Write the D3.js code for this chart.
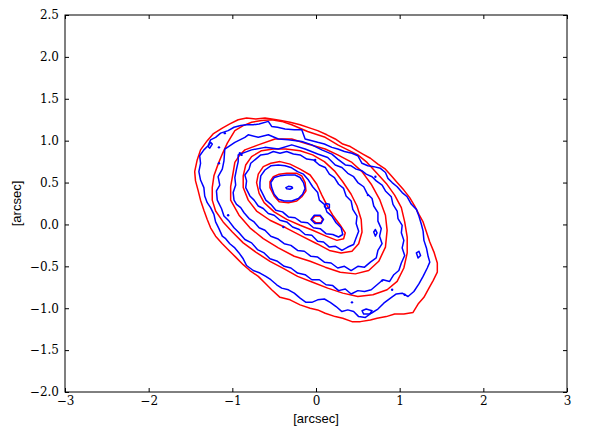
<!DOCTYPE html>
<html><head><meta charset="utf-8">
<script src="https://cdn.jsdelivr.net/npm/d3@7/dist/d3.min.js"></script>
<style>body{margin:0;background:#fff}</style></head>
<body><svg id="c" width="598" height="432"></svg>
<script>
const xTicks=[-3,-2,-1,0,1,2,3];
const yTicks=[-2.0,-1.5,-1.0,-0.5,0.0,0.5,1.0,1.5,2.0,2.5];
const xLabel="[arcsec]", yLabel="[arcsec]";

const red1=[[-1.45,0.63],[-1.42,0.77],[-1.38,0.89],[-1.30,1.00],[-1.23,1.08],[-1.12,1.15],[-1.03,1.20],[-0.93,1.25],[-0.83,1.27],[-0.72,1.26],[-0.61,1.27],[-0.53,1.26],[-0.42,1.24],[-0.31,1.22],[-0.19,1.19],[-0.07,1.15],[0.02,1.12],[0.13,1.07],[0.23,1.02],[0.32,0.96],[0.41,0.93],[0.49,0.88],[0.56,0.84],[0.65,0.79],[0.74,0.72],[0.83,0.66],[0.90,0.58],[0.97,0.50],[1.05,0.41],[1.12,0.32],[1.18,0.22],[1.23,0.12],[1.28,0.03],[1.32,-0.09],[1.36,-0.21],[1.41,-0.33],[1.45,-0.46],[1.45,-0.57],[1.40,-0.67],[1.35,-0.76],[1.29,-0.87],[1.22,-0.95],[1.16,-1.05],[1.05,-1.07],[0.94,-1.07],[0.84,-1.10],[0.73,-1.12],[0.65,-1.14],[0.53,-1.16],[0.43,-1.16],[0.32,-1.12],[0.23,-1.10],[0.11,-1.06],[0.02,-1.02],[-0.07,-1.00],[-0.19,-0.96],[-0.31,-0.90],[-0.43,-0.87],[-0.53,-0.78],[-0.61,-0.70],[-0.69,-0.62],[-0.79,-0.55],[-0.87,-0.48],[-0.96,-0.39],[-1.04,-0.31],[-1.12,-0.23],[-1.20,-0.14],[-1.26,-0.04],[-1.30,0.06],[-1.34,0.17],[-1.38,0.29],[-1.41,0.41],[-1.44,0.52]];
const red2=[[-1.24,0.29],[-1.24,0.44],[-1.22,0.58],[-1.17,0.72],[-1.12,0.84],[-1.06,0.97],[-0.97,1.12],[-0.87,1.18],[-0.77,1.22],[-0.65,1.24],[-0.53,1.25],[-0.41,1.23],[-0.29,1.19],[-0.10,1.11],[0.11,1.04],[0.26,0.95],[0.38,0.89],[0.50,0.83],[0.61,0.74],[0.72,0.62],[0.84,0.49],[0.94,0.35],[1.02,0.20],[1.06,0.03],[1.09,-0.15],[1.09,-0.34],[1.05,-0.52],[0.97,-0.68],[0.85,-0.78],[0.68,-0.84],[0.50,-0.86],[0.32,-0.82],[0.14,-0.76],[-0.04,-0.69],[-0.22,-0.62],[-0.38,-0.53],[-0.55,-0.44],[-0.72,-0.33],[-0.87,-0.22],[-1.00,-0.09],[-1.11,0.03],[-1.20,0.16]];
const red3=[[-1.02,0.29],[-1.02,0.45],[-0.99,0.62],[-0.97,0.74],[-0.91,0.83],[-0.85,0.89],[-0.69,0.95],[-0.49,1.02],[-0.29,1.02],[-0.10,0.96],[0.11,0.90],[0.26,0.83],[0.43,0.74],[0.55,0.63],[0.66,0.48],[0.76,0.30],[0.83,0.11],[0.85,-0.07],[0.83,-0.27],[0.75,-0.44],[0.63,-0.55],[0.47,-0.59],[0.29,-0.57],[0.11,-0.51],[-0.07,-0.44],[-0.26,-0.38],[-0.45,-0.28],[-0.63,-0.17],[-0.79,-0.04],[-0.92,0.11]];
const red4=[[-0.87,0.44],[-0.87,0.58],[-0.84,0.71],[-0.77,0.81],[-0.65,0.88],[-0.51,0.90],[-0.36,0.90],[-0.19,0.88],[-0.04,0.83],[0.10,0.75],[0.22,0.64],[0.32,0.51],[0.42,0.36],[0.49,0.22],[0.54,0.06],[0.55,-0.09],[0.51,-0.23],[0.43,-0.32],[0.30,-0.34],[0.16,-0.31],[0.01,-0.23],[-0.17,-0.14],[-0.36,-0.04],[-0.55,0.05],[-0.71,0.16],[-0.81,0.29]];
const red5=[[-0.71,0.50],[-0.69,0.60],[-0.63,0.69],[-0.54,0.73],[-0.43,0.75],[-0.31,0.72],[-0.19,0.66],[-0.07,0.59],[0.01,0.48],[0.07,0.35],[0.13,0.23],[0.20,0.11],[0.29,-0.01],[0.35,-0.10],[0.33,-0.17],[0.25,-0.19],[0.12,-0.14],[-0.04,-0.07],[-0.19,-0.01],[-0.35,0.06],[-0.50,0.15],[-0.62,0.26],[-0.68,0.37]];
const red6=[[-0.55,0.44],[-0.55,0.51],[-0.51,0.57],[-0.44,0.60],[-0.35,0.61],[-0.23,0.61],[-0.17,0.58],[-0.13,0.50],[-0.12,0.40],[-0.17,0.33],[-0.23,0.28],[-0.33,0.26],[-0.44,0.27],[-0.50,0.34]];
const red7=[[-0.05,0.06],[-0.01,0.10],[0.05,0.10],[0.08,0.06],[0.06,0.02],[0.00,0.02]];

const blue1=[[-1.40,0.63],[-1.38,0.73],[-1.39,0.82],[-1.34,0.89],[-1.29,0.94],[-1.26,1.01],[-1.20,1.04],[-1.14,1.09],[-1.05,1.12],[-0.98,1.16],[-0.90,1.18],[-0.83,1.19],[-0.75,1.19],[-0.68,1.20],[-0.57,1.23],[-0.53,1.17],[-0.46,1.16],[-0.37,1.14],[-0.26,1.13],[-0.17,1.13],[-0.13,1.02],[-0.05,1.00],[0.02,0.98],[0.10,0.96],[0.19,0.92],[0.26,0.90],[0.34,0.87],[0.43,0.85],[0.50,0.82],[0.55,0.73],[0.62,0.70],[0.69,0.69],[0.77,0.67],[0.83,0.62],[0.86,0.55],[0.91,0.50],[0.97,0.45],[1.03,0.38],[1.09,0.33],[1.14,0.24],[1.20,0.18],[1.23,0.10],[1.26,0.00],[1.28,-0.08],[1.29,-0.19],[1.32,-0.28],[1.34,-0.38],[1.36,-0.45],[1.33,-0.52],[1.28,-0.62],[1.23,-0.71],[1.17,-0.80],[1.10,-0.86],[1.03,-0.82],[0.96,-0.83],[0.89,-0.88],[0.81,-0.94],[0.74,-1.01],[0.66,-1.06],[0.59,-1.11],[0.51,-1.10],[0.45,-1.04],[0.38,-1.02],[0.31,-1.04],[0.24,-0.98],[0.17,-0.93],[0.10,-0.89],[0.02,-0.90],[-0.05,-0.93],[-0.12,-0.93],[-0.19,-0.88],[-0.26,-0.82],[-0.33,-0.78],[-0.41,-0.76],[-0.47,-0.72],[-0.54,-0.66],[-0.60,-0.62],[-0.67,-0.58],[-0.75,-0.55],[-0.83,-0.49],[-0.87,-0.41],[-0.92,-0.34],[-0.97,-0.28],[-1.03,-0.23],[-1.08,-0.17],[-1.12,-0.14],[-1.16,-0.05],[-1.20,0.03],[-1.22,0.12],[-1.26,0.20],[-1.30,0.26],[-1.33,0.34],[-1.34,0.44],[-1.38,0.53]];
const blue2=[[-1.18,0.29],[-1.19,0.40],[-1.15,0.47],[-1.17,0.57],[-1.12,0.66],[-1.10,0.76],[-1.09,0.90],[-0.97,0.98],[-0.85,1.04],[-0.81,1.07],[-0.69,1.04],[-0.57,1.07],[-0.45,1.02],[-0.33,1.01],[-0.17,0.99],[-0.05,0.95],[0.07,0.89],[0.19,0.84],[0.26,0.78],[0.35,0.71],[0.42,0.70],[0.48,0.66],[0.55,0.64],[0.60,0.60],[0.67,0.57],[0.72,0.52],[0.79,0.47],[0.83,0.40],[0.90,0.33],[0.92,0.24],[0.97,0.16],[0.98,0.07],[1.03,-0.01],[1.02,-0.10],[1.05,-0.19],[1.03,-0.28],[1.06,-0.37],[1.02,-0.46],[0.99,-0.55],[0.93,-0.60],[0.88,-0.68],[0.80,-0.66],[0.73,-0.72],[0.66,-0.78],[0.58,-0.80],[0.50,-0.79],[0.42,-0.83],[0.35,-0.77],[0.27,-0.79],[0.20,-0.73],[0.12,-0.72],[0.04,-0.66],[-0.05,-0.66],[-0.13,-0.60],[-0.22,-0.58],[-0.30,-0.52],[-0.38,-0.50],[-0.46,-0.44],[-0.55,-0.41],[-0.62,-0.34],[-0.70,-0.30],[-0.77,-0.22],[-0.85,-0.18],[-0.92,-0.10],[-0.98,-0.04],[-1.04,0.04],[-1.10,0.10],[-1.13,0.19]];
const blue3=[[-0.98,0.29],[-0.99,0.38],[-0.96,0.47],[-0.97,0.56],[-0.95,0.66],[-0.93,0.75],[-0.93,0.83],[-0.77,0.89],[-0.61,0.92],[-0.45,0.90],[-0.29,0.95],[-0.13,0.90],[0.02,0.84],[0.14,0.80],[0.23,0.71],[0.31,0.68],[0.38,0.61],[0.45,0.57],[0.50,0.50],[0.57,0.45],[0.61,0.37],[0.67,0.31],[0.69,0.22],[0.74,0.14],[0.74,0.04],[0.78,-0.05],[0.76,-0.14],[0.79,-0.23],[0.74,-0.31],[0.72,-0.40],[0.65,-0.45],[0.58,-0.51],[0.50,-0.50],[0.42,-0.55],[0.34,-0.50],[0.26,-0.52],[0.18,-0.46],[0.10,-0.45],[0.02,-0.39],[-0.06,-0.38],[-0.14,-0.32],[-0.22,-0.31],[-0.30,-0.25],[-0.38,-0.23],[-0.46,-0.17],[-0.54,-0.14],[-0.61,-0.07],[-0.68,-0.04],[-0.74,0.03],[-0.80,0.07],[-0.86,0.14],[-0.90,0.20],[-0.95,0.24]];
const blue4=[[-0.84,0.44],[-0.83,0.52],[-0.85,0.59],[-0.80,0.66],[-0.78,0.73],[-0.72,0.78],[-0.66,0.83],[-0.58,0.84],[-0.51,0.87],[-0.43,0.85],[-0.35,0.87],[-0.27,0.84],[-0.19,0.83],[-0.11,0.78],[-0.03,0.77],[0.04,0.71],[0.11,0.68],[0.16,0.60],[0.22,0.56],[0.27,0.48],[0.33,0.43],[0.36,0.34],[0.42,0.28],[0.44,0.18],[0.49,0.10],[0.48,0.01],[0.51,-0.08],[0.48,-0.16],[0.45,-0.24],[0.38,-0.27],[0.31,-0.31],[0.23,-0.26],[0.16,-0.27],[0.09,-0.21],[0.02,-0.20],[-0.05,-0.13],[-0.13,-0.12],[-0.20,-0.06],[-0.28,-0.03],[-0.35,0.03],[-0.43,0.05],[-0.50,0.11],[-0.57,0.13],[-0.63,0.19],[-0.69,0.22],[-0.74,0.29],[-0.79,0.34]];
const blue5=[[-0.67,0.50],[-0.66,0.58],[-0.61,0.65],[-0.54,0.70],[-0.45,0.71],[-0.37,0.70],[-0.30,0.68],[-0.22,0.63],[-0.15,0.60],[-0.09,0.53],[-0.04,0.45],[0.02,0.38],[0.04,0.29],[0.10,0.24],[0.13,0.15],[0.19,0.10],[0.24,0.02],[0.30,-0.04],[0.32,-0.12],[0.27,-0.15],[0.20,-0.12],[0.12,-0.11],[0.05,-0.05],[-0.03,-0.04],[-0.10,0.02],[-0.18,0.03],[-0.25,0.08],[-0.33,0.09],[-0.40,0.15],[-0.48,0.17],[-0.54,0.24],[-0.60,0.29],[-0.64,0.37],[-0.67,0.43]];
const blue6=[[-0.53,0.44],[-0.54,0.50],[-0.50,0.56],[-0.43,0.58],[-0.35,0.59],[-0.25,0.59],[-0.19,0.56],[-0.15,0.50],[-0.13,0.43],[-0.16,0.36],[-0.21,0.31],[-0.29,0.28],[-0.38,0.28],[-0.45,0.30],[-0.50,0.36]];
const blue7=[[-0.36,0.44],[-0.33,0.455],[-0.29,0.45],[-0.28,0.435],[-0.31,0.42],[-0.35,0.425]];
const blue8=[[-0.06,0.06],[-0.02,0.11],[0.05,0.11],[0.09,0.06],[0.06,0.01],[-0.01,0.01]];
const blue9=[[0.10,0.22],[0.12,0.25],[0.16,0.24],[0.16,0.20],[0.12,0.19]];
const blue10=[[0.69,-0.09],[0.71,-0.06],[0.73,-0.10],[0.71,-0.14]];
const blue11=[[1.20,-0.34],[1.23,-0.32],[1.25,-0.37],[1.22,-0.40]];
const blue12=[[0.55,-1.03],[0.60,-1.01],[0.67,-1.03],[0.64,-1.07],[0.57,-1.07]];
const blue13=[[-1.29,0.93],[-1.26,0.98],[-1.24,0.96],[-1.27,0.91]];
const blueDots=[[-1.09,1.09],[-1.16,0.92],[-0.91,0.85],[-1.16,0.73],[-1.05,0.11],[-0.01,0.77],[0.71,0.57],[0.62,0.35],[-0.39,-0.03],[-0.89,0.83],[0.79,-0.67],[0.91,-0.78],[1.06,-0.84],[0.43,-0.93]];

const redContours=[red1,red2,red3,red4,red5,red6,red7];
const blueContours=[blue1,blue2,blue3,blue4,blue5,blue6,blue7,blue8,blue9,blue10,blue11,blue12,blue13];

const W=598,H=432,m={l:65,t:15,r:31,b:40};
const pw=W-m.l-m.r, ph=H-m.t-m.b;
const svg=d3.select("#c");
const xs=d3.scaleLinear().domain([-3,3]).range([m.l,m.l+pw]);
const ys=d3.scaleLinear().domain([-2,2.5]).range([m.t+ph,m.t]);
const pathGen=d3.line().x(d=>xs(d[0])).y(d=>ys(d[1])).curve(d3.curveLinearClosed);

const g=svg.append("g");
g.selectAll("path.r").data(redContours).join("path").attr("class","r")
 .attr("d",pathGen).attr("fill","none").attr("stroke","#ff0000").attr("stroke-width",1.5).attr("stroke-linejoin","round");
g.selectAll("path.b").data(blueContours).join("path").attr("class","b")
 .attr("d",pathGen).attr("fill","none").attr("stroke","#0000ff").attr("stroke-width",1.5).attr("stroke-linejoin","round");
g.selectAll("circle.d").data(blueDots).join("circle").attr("class","d")
 .attr("cx",d=>xs(d[0])).attr("cy",d=>ys(d[1])).attr("r",1.2).attr("fill","#0000ff");

const fmtX=v=>(v<0?"\u2212":"")+Math.abs(v);
const fmtY=v=>(v<0?"\u2212":"")+Math.abs(v).toFixed(1);
const serif="'DejaVu Serif','Liberation Serif',serif";

const axB=d3.axisBottom(xs).tickValues(xTicks).tickSize(-4).tickPadding(4).tickFormat(fmtX);
const axT=d3.axisTop(xs).tickValues(xTicks).tickSize(-4).tickFormat("");
const axL=d3.axisLeft(ys).tickValues(yTicks).tickSize(-4).tickPadding(6).tickFormat(fmtY);
const axR=d3.axisRight(ys).tickValues(yTicks).tickSize(-4).tickFormat("");
function styleAx(s){s.select(".domain").remove();s.selectAll("line").attr("stroke","#000");s.selectAll("text").attr("font-family",serif).attr("font-size",12).attr("fill","#000");}
svg.append("g").attr("transform",`translate(0,${m.t+ph})`).call(axB).call(styleAx);
svg.append("g").attr("transform",`translate(0,${m.t})`).call(axT).call(styleAx);
svg.append("g").attr("transform",`translate(${m.l},0)`).call(axL).call(styleAx);
svg.append("g").attr("transform",`translate(${m.l+pw},0)`).call(axR).call(styleAx);
svg.append("rect").attr("x",m.l).attr("y",m.t).attr("width",pw).attr("height",ph).attr("fill","none").attr("stroke","#000").attr("stroke-width",1);

svg.append("text").attr("x",m.l+pw/2).attr("y",423).attr("text-anchor","middle").attr("font-family","'Liberation Sans',Arial,sans-serif").attr("font-size",13).text(xLabel);
svg.append("text").attr("transform",`translate(21,${m.t+ph/2}) rotate(-90)`).attr("text-anchor","middle").attr("font-family","'Liberation Sans',Arial,sans-serif").attr("font-size",13).text(yLabel);
</script></body></html>
